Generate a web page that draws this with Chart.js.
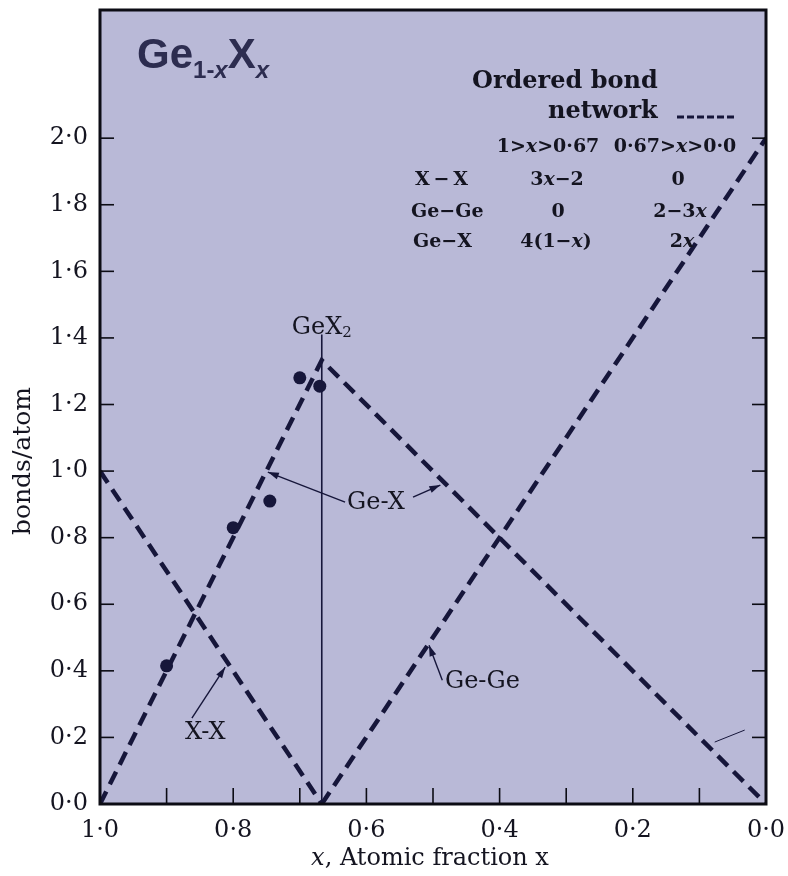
<!DOCTYPE html>
<html>
<head>
<meta charset="utf-8">
<title>Ge1-xXx bonds per atom</title>
<script src="https://cdn.jsdelivr.net/npm/chart.js@4"></script>
<style>
  html, body { margin: 0; padding: 0; background: #fff; }
  #wrap { width: 788px; height: 876px; }
</style>
</head>
<body>
<div id="wrap"><canvas id="bonds"></canvas></div>
<script>
// ordered bond network, x = atomic fraction of X
const geX_x = [1.0, 0.667, 0.0];
const geX_y = [0.0, 1.333, 0.0];
const xx_x = [1.0, 0.667];
const xx_y = [1.0, 0.0];
const gege_x = [0.667, 0.0];
const gege_y = [0.0, 2.0];
// GeX2 marker
const stoich_x = [0.667, 0.667];
const stoich_y = [0.0, 1.41];
// measured points
const meas_x = [0.90, 0.80, 0.745, 0.70, 0.67];
const meas_y = [0.415, 0.83, 0.91, 1.28, 1.255];

const ink = '#16163a';
const txt = '#141420';
const serif = '"DejaVu Serif", serif';

function pts(xs, ys) { return xs.map((v, i) => ({ x: v, y: ys[i] })); }
function fmt(v) { return v.toFixed(1).replace('.', '\u00b7'); }

function arrow(ctx, x1, y1, x2, y2) {
  ctx.beginPath(); ctx.moveTo(x1, y1); ctx.lineTo(x2, y2); ctx.stroke();
  const a = Math.atan2(y2 - y1, x2 - x1);
  ctx.beginPath();
  ctx.moveTo(x2, y2);
  ctx.lineTo(x2 - 11 * Math.cos(a) + 3.5 * Math.sin(a), y2 - 11 * Math.sin(a) - 3.5 * Math.cos(a));
  ctx.lineTo(x2 - 11 * Math.cos(a) - 3.5 * Math.sin(a), y2 - 11 * Math.sin(a) + 3.5 * Math.cos(a));
  ctx.closePath(); ctx.fill();
}

// draw text made of runs, some italic / subscript
function runs(ctx, parts, x, y, align) {
  let w = 0;
  parts.forEach(p => { ctx.font = p.f; w += ctx.measureText(p.t).width; });
  let cx = align === 'center' ? x - w / 2 : x;
  parts.forEach(p => {
    ctx.font = p.f;
    ctx.fillText(p.t, cx, y + (p.dy || 0));
    cx += ctx.measureText(p.t).width;
  });
}

// no extra room for overhanging tick labels
function noPad(s) { s.paddingLeft = 0; s.paddingRight = 0; s.paddingTop = 0; s.paddingBottom = 0; }

const paper = {
  id: 'paper',
  beforeDraw(chart) {
    const { ctx, chartArea: a } = chart;
    ctx.save();
    ctx.fillStyle = '#b9b9d7';
    ctx.fillRect(a.left, a.top, a.right - a.left, a.bottom - a.top);
    ctx.restore();
  },
  afterDraw(chart) {
    const { ctx, chartArea: a, scales } = chart;
    const sx = scales.x, sy = scales.y;
    const X = v => sx.getPixelForValue(v), Y = v => sy.getPixelForValue(v);
    ctx.save();
    ctx.strokeStyle = '#0c0c14';
    ctx.lineWidth = 1.6;
    // inward ticks
    sy.ticks.forEach(t => {
      const p = Y(t.value);
      ctx.beginPath(); ctx.moveTo(a.left, p); ctx.lineTo(a.left + 14, p); ctx.stroke();
      ctx.beginPath(); ctx.moveTo(a.right - 14, p); ctx.lineTo(a.right, p); ctx.stroke();
    });
    sx.ticks.forEach(t => {
      const p = X(t.value);
      ctx.beginPath(); ctx.moveTo(p, a.bottom); ctx.lineTo(p, a.bottom - 16); ctx.stroke();
    });
    ctx.lineWidth = 3;
    ctx.strokeRect(a.left, a.top, a.right - a.left, a.bottom - a.top);

    // pointers
    ctx.strokeStyle = ink; ctx.fillStyle = ink; ctx.lineWidth = 1.4;
    arrow(ctx, X(0.632), Y(0.907), X(0.748), Y(0.997));
    arrow(ctx, X(0.530), Y(0.922), X(0.489), Y(0.958));
    arrow(ctx, X(0.862), Y(0.258), X(0.812), Y(0.411));
    arrow(ctx, X(0.486), Y(0.372), X(0.506), Y(0.477));
    ctx.lineWidth = 1;
    ctx.beginPath(); ctx.moveTo(X(0.077), Y(0.186)); ctx.lineTo(X(0.032), Y(0.222)); ctx.stroke();

    // labels on the curves
    ctx.fillStyle = txt;
    ctx.textBaseline = 'middle';
    ctx.textAlign = 'left';
    ctx.font = '24px ' + serif;
    ctx.fillText('Ge-X', X(0.629), Y(0.904));
    ctx.fillText('Ge-Ge', X(0.482), Y(0.366));
    ctx.textAlign = 'center';
    ctx.fillText('X-X', X(0.842), Y(0.213));
    ctx.textAlign = 'left';
    runs(ctx, [{ t: 'GeX', f: '24px ' + serif }, { t: '2', f: '15px ' + serif, dy: 6 }], X(0.667), Y(1.432), 'center');

    // formula in the corner
    ctx.fillStyle = '#2d2d50';
    ctx.textBaseline = 'alphabetic';
    const sb = 'bold 42px "Liberation Sans", Arial, sans-serif';
    const ss = 'bold 24px "Liberation Sans", Arial, sans-serif';
    const si = 'italic bold 24px "Liberation Sans", Arial, sans-serif';
    runs(ctx, [
      { t: 'Ge', f: sb }, { t: '1-', f: ss, dy: 10 }, { t: 'x', f: si, dy: 10 },
      { t: 'X', f: sb }, { t: 'x', f: si, dy: 10 }
    ], 137, 68, 'left');

    // bond table
    ctx.fillStyle = txt;
    ctx.textBaseline = 'middle';
    const hb = 'bold 24px ' + serif;
    const tb = 'bold 19px ' + serif;
    const ti = 'italic bold 19px ' + serif;
    ctx.font = hb; ctx.textAlign = 'left';
    ctx.fillText('Ordered bond', 472, 82);
    ctx.fillText('network', 548, 112);
    ctx.strokeStyle = ink; ctx.lineWidth = 3; ctx.setLineDash([7, 3]);
    ctx.beginPath(); ctx.moveTo(677, 117); ctx.lineTo(734, 117); ctx.stroke();
    ctx.setLineDash([]);
    runs(ctx, [{ t: '1>', f: tb }, { t: 'x', f: ti }, { t: '>0\u00b767', f: tb }], 548, 147, 'center');
    runs(ctx, [{ t: '0\u00b767>', f: tb }, { t: 'x', f: ti }, { t: '>0\u00b70', f: tb }], 675, 147, 'center');
    runs(ctx, [{ t: 'X\u2009\u2212\u2009X', f: tb }], 415, 180, 'left');
    runs(ctx, [{ t: 'Ge\u2212Ge', f: tb }], 411, 212, 'left');
    runs(ctx, [{ t: 'Ge\u2212X', f: tb }], 413, 242, 'left');
    runs(ctx, [{ t: '3', f: tb }, { t: 'x', f: ti }, { t: '\u22122', f: tb }], 557, 180, 'center');
    runs(ctx, [{ t: '0', f: tb }], 678, 180, 'center');
    runs(ctx, [{ t: '0', f: tb }], 558, 212, 'center');
    runs(ctx, [{ t: '2\u22123', f: tb }, { t: 'x', f: ti }], 680, 212, 'center');
    runs(ctx, [{ t: '4(1\u2212', f: tb }, { t: 'x', f: ti }, { t: ')', f: tb }], 556, 242, 'center');
    runs(ctx, [{ t: '2', f: tb }, { t: 'x', f: ti }], 682, 242, 'center');

    // axis titles
    ctx.fillStyle = txt;
    ctx.textBaseline = 'middle';
    runs(ctx, [{ t: 'x', f: 'italic 24px ' + serif }, { t: ', Atomic fraction x', f: '24px ' + serif }], 430, 859, 'center');
    ctx.translate(23, 461);
    ctx.rotate(-Math.PI / 2);
    ctx.textAlign = 'center';
    ctx.font = '25px ' + serif;
    ctx.fillText('bonds/atom', 0, 0);
    ctx.restore();
  }
};

const dashed = { showLine: true, pointRadius: 0, borderColor: ink, borderWidth: 4.5, borderDash: [14, 8], fill: false };

new Chart(document.getElementById('bonds'), {
  type: 'scatter',
  data: {
    datasets: [
      { label: 'measured', data: pts(meas_x, meas_y), pointRadius: 6.5, pointBackgroundColor: ink, pointBorderWidth: 0 },
      Object.assign({ label: 'Ge-X', data: pts(geX_x, geX_y) }, dashed),
      Object.assign({ label: 'X-X', data: pts(xx_x, xx_y) }, dashed),
      Object.assign({ label: 'Ge-Ge', data: pts(gege_x, gege_y) }, dashed),
      { label: 'GeX2', data: pts(stoich_x, stoich_y), showLine: true, pointRadius: 0, borderColor: ink, borderWidth: 1.6 }
    ]
  },
  options: {
    responsive: true,
    maintainAspectRatio: false,
    animation: false,
    layout: { padding: { top: 10, right: 22, left: 0, bottom: 0 } },
    plugins: { legend: { display: false }, tooltip: { enabled: false } },
    scales: {
      x: {
        type: 'linear', reverse: true, min: 0, max: 1,
        afterFit: s => { s.height = 72; noPad(s); },
        grid: { display: false, drawTicks: false },
        border: { display: false },
        ticks: {
          stepSize: 0.1, padding: 12, color: txt, maxRotation: 0, autoSkip: false,
          font: { family: serif, size: 24 },
          callback: v => (Math.round(v * 10) % 2 === 0 ? fmt(v) : '')
        }
      },
      y: {
        type: 'linear', min: 0, max: 2.385,
        afterFit: s => { s.width = 100; noPad(s); },
        afterBuildTicks: s => { s.ticks = s.ticks.filter(t => t.value <= 2.0001); },
        grid: { display: false, drawTicks: false },
        border: { display: false },
        ticks: {
          stepSize: 0.2, padding: 12, color: txt,
          font: { family: serif, size: 24 },
          callback: v => fmt(v)
        }
      }
    }
  },
  plugins: [paper]
});
</script>
</body>
</html>
